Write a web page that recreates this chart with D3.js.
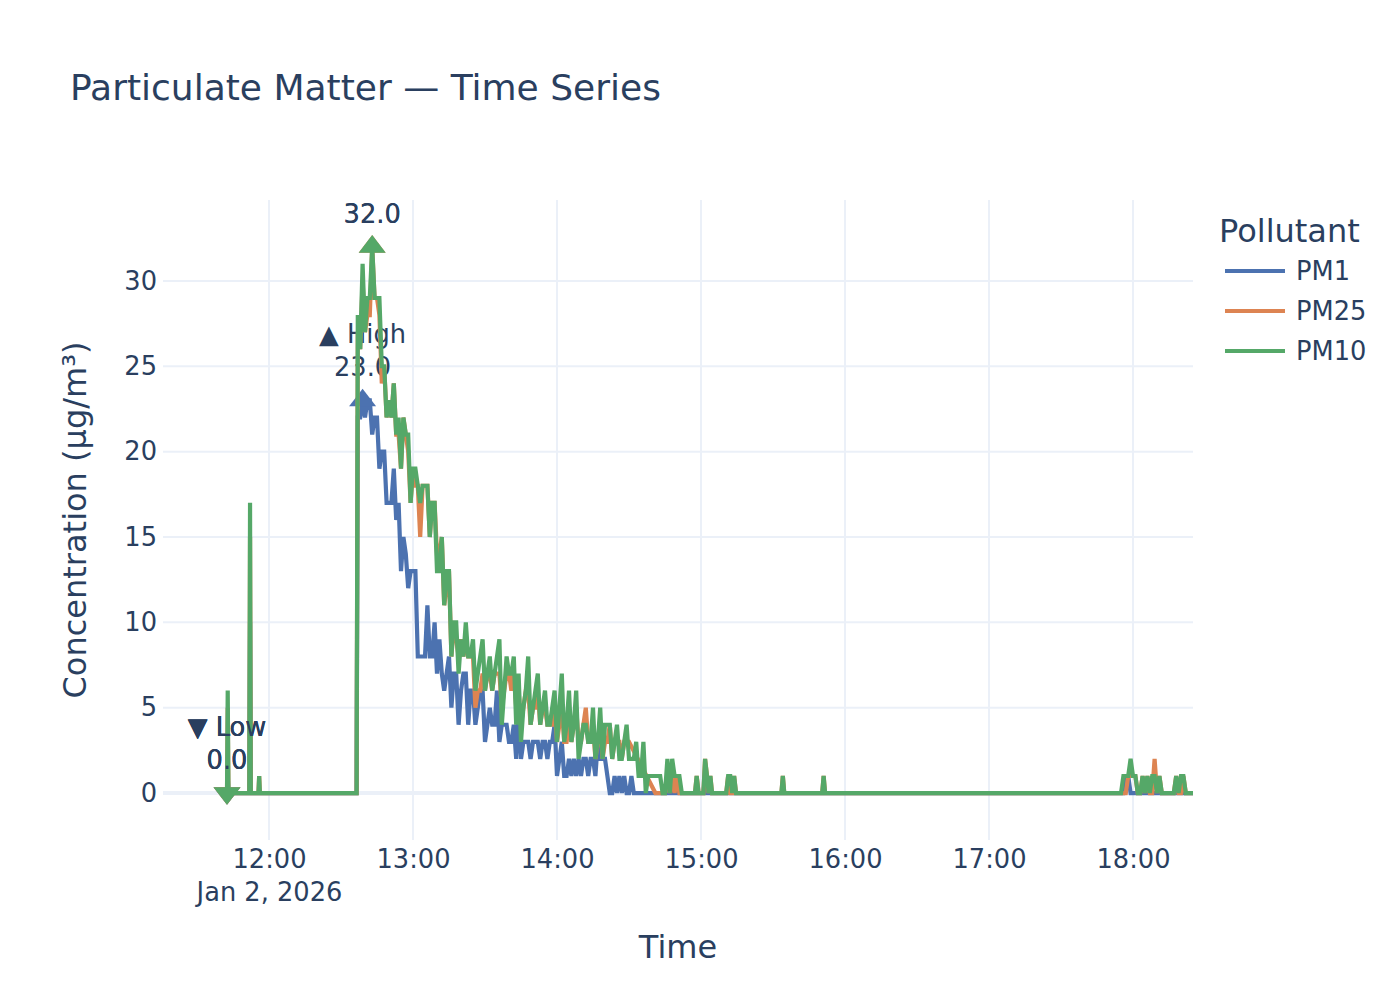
<!DOCTYPE html>
<html>
<head>
<meta charset="utf-8">
<script src="https://cdn.jsdelivr.net/npm/d3@7"></script>
<style>
  body { margin: 0; background: #fff; }
  svg { font-family: "DejaVu Sans", sans-serif; }
  .line { fill: none; stroke-width: 4.2; }
</style>
</head>
<body>
<svg id="chart" width="1400" height="1000"></svg>
<script>
// readings: minutes after 12:00 on Jan 2, 2026
const minutes = [
  -17.5, -17.2, -16.9, -8.2, -7.9, -7.6, -4.4, -4.1, -3.8, 36.5,
  37, 38, 39, 40, 41, 42, 43, 44, 45, 46,
  47, 48, 49, 50, 51, 52, 53, 54, 55, 56,
  57, 58, 59, 60, 61, 62, 63, 64, 65, 66,
  67, 68, 69, 70, 71, 72, 73, 74, 75, 76,
  77, 78, 79, 80, 81, 82, 83, 84, 85, 86,
  87, 88, 89, 90, 91, 92, 93, 94, 95, 96,
  97, 98, 99, 100, 101, 102, 103, 104, 105, 106,
  107, 108, 109, 110, 111, 112, 113, 114, 115, 116,
  117, 118, 119, 120, 121, 122, 123, 124, 125, 126,
  127, 128, 129, 130, 131, 132, 133, 134, 135, 136,
  137, 138, 139, 140, 141, 142, 143, 144, 145, 146,
  147, 148, 149, 150, 151, 152, 153, 154, 155, 156,
  157, 158, 159, 160, 161, 162, 163, 164, 165, 166,
  167, 168, 169, 170, 171, 172,
  177.5, 178.2, 179, 181, 181.7, 182.5, 183.2, 183.9, 184.6,
  190.5, 191.3, 192.2, 193, 193.8, 194.6, 213.5, 214.1, 214.7, 230.5, 231.1, 231.7,
  355, 356, 357, 358, 359, 360, 361, 362, 363, 364,
  365, 366, 367, 368, 369, 370, 371, 372, 373, 374,
  375, 376, 377, 378, 379, 380, 381, 382, 383, 384, 385
]

const pm1 = [
  0, 1, 0, 0, 10, 0, 0, 0, 0, 0,
  22, 22, 23, 22, 23, 23, 21, 22, 22, 19,
  20, 20, 17, 17, 17, 19, 16, 17, 13, 15,
  14, 12, 13, 13, 13, 8, 8, 8, 8, 11,
  8, 8, 10, 7, 9, 7, 6, 7, 8, 5,
  7, 7, 4, 6, 7, 7, 4, 6, 6, 4,
  5, 6, 6, 3, 4, 5, 4, 4, 6, 3,
  4, 4, 4, 3, 3, 4, 2, 5, 2, 3,
  3, 3, 2, 3, 3, 3, 2, 3, 3, 2,
  3, 3, 4, 1, 2, 3, 1, 1, 2, 1,
  2, 1, 2, 1, 2, 2, 1, 2, 2, 1,
  3, 2, 2, 2, 1, 0, 0, 1, 0, 1,
  0, 1, 0, 0, 1, 0, 0, 0, 0, 0,
  0, 0, 0, 0, 0, 0, 0, 0, 0, 0,
  0, 0, 0, 0, 0, 0,
  0, 0, 0, 0, 1, 0, 0, 0, 0,
  0, 0, 0, 0, 0, 0, 0, 0, 0, 0, 0, 0,
  0, 0, 1, 1, 0, 0, 0, 0, 0, 0,
  0, 0, 0, 0, 0, 0, 0, 0, 0, 0,
  0, 0, 0, 0, 0, 0, 0, 0, 0, 0, 0
]

// null = no reading (line runs straight across)
const pm25 = [
  0, 5, 0, 0, 15, 0, 0, 1, 0, 0,
  27, 26, 30, 27, 28, 28, 32, 29, 29, 28,
  24, 25, 22, 23, 22, 24, 21, 21, 19, 22,
  21, 20, 17, 19, 18, 18, 15, 18, 18, 18,
  15, 17, 17, 14, 14, 15, 11, 12, 13, 8,
  10, 9, 8, 9, 8, 9, 8, 8, 8, 5,
  6, 6, 7, 6, 7, 7, 6, 7, 7, 7,
  5, 6, 7, 7, 6, 7, 5, 6, 4, 5,
  6, 6, 4, 5, 5, 6, 4, 5, 5, 4,
  4, 4, 5, 3, 4, 5, 3, 3, 4, 3,
  4, 5, 3, 3, 4, 5, 3, 3, 4, 2,
  3, 4, 2, 3, 3, 4, 2, 3, 3, 3,
  2, 3, 3, 3, null, null, null, null, null, null,
  null, null, null, null, 0, 0, 0, 0, 0, 1,
  0, 1, 0, 1, 0, 0,
  0, 1, 0, 0, 2, 1, 0, 1, 0,
  0, 1, 0, 0, 1, 0, 0, 1, 0, 0, 1, 0,
  0, 0, 0, 1, 1, 1, 1, 0, 0, 1,
  0, 1, 0, 0, 2, 0, 1, 0, 0, 0,
  0, 0, 0, 1, 0, 0, 1, 0, 0, 0, 0
]

const pm10 = [
  0, 6, 0, 0, 17, 0, 0, 1, 0, 0,
  28, 26, 31, 27, 29, 29, 32, 29, 29, 29,
  25, 25, 22, 23, 22, 24, 21, 22, 19, 22,
  21, 21, 17, 19, 19, 18, 17, 18, 18, 18,
  15, 17, 17, 13, 13, 15, 11, 13, 13, 8,
  10, 10, 7, 9, 8, 10, 8, 8, 9, 6,
  7, 8, 9, 6, 7, 8, 6, 7, 8, 9,
  4, 6, 8, 7, 7, 8, 4, 7, 3, 5,
  6, 8, 4, 5, 6, 7, 4, 5, 6, 4,
  4, 5, 6, 3, 5, 7, 3, 4, 6, 3,
  4, 6, 2, 3, 4, 4, 3, 3, 5, 2,
  3, 5, 2, 4, 4, 4, 2, 3, 4, 2,
  2, 3, 4, 2, 2, 2, 3, 1, 1, 3,
  0, 1, 1, 1, 1, 1, 1, 0, 0, 2,
  0, 2, 1, 1, 1, 0,
  0, 1, 0, 0, 2, 1, 0, 1, 0,
  0, 1, 1, 0, 1, 0, 0, 1, 0, 0, 1, 0,
  0, 1, 1, 1, 2, 1, 1, 0, 0, 1,
  0, 1, 0, 1, 1, 0, 1, 0, 0, 0,
  0, 0, 0, 1, 0, 1, 1, 0, 0, 0, 0
]

const seriesNames = ["PM1", "PM25", "PM10"]
const seriesColors = ["#4c72b0", "#dd8452", "#55a868"]
const hourTicks = ["12:00", "13:00", "14:00", "15:00", "16:00", "17:00", "18:00"]
const yTicks = [0, 5, 10, 15, 20, 25, 30]
const yRange = [-2.75, 34.74]

const textColor = "#2a3f5f"
const gridColor = "#ebf0f8"
const plot = {left: 163, right: 1193, top: 200, bottom: 840}

const base = new Date(2026, 0, 2, 12, 0, 0)
const toDate = m => new Date(base.getTime() + m * 60000)
const parseHour = s => toDate((+s.split(":")[0] - 12) * 60 + +s.split(":")[1])

let svg = d3.select("#chart")

svg.append("defs").append("clipPath").attr("id", "plot-clip")
    .append("rect")
    .attr("x", plot.left).attr("y", plot.top)
    .attr("width", plot.right - plot.left)
    .attr("height", plot.bottom - plot.top)

// x starts a bit in from the left edge to leave room for the markers
let xScale = d3.scaleTime()
    .domain([toDate(minutes[0]), toDate(minutes[minutes.length - 1])])
    .range([plot.left + 64, plot.right])

let yScale = d3.scaleLinear()
    .domain(yRange)
    .range([plot.bottom, plot.top])

let xTickDates = hourTicks.map(parseHour)

// grid
let grid = svg.append("g")
grid.selectAll(".vgrid").data(xTickDates).join("line")
    .attr("x1", d => xScale(d)).attr("x2", d => xScale(d))
    .attr("y1", plot.top).attr("y2", plot.bottom)
    .attr("stroke", gridColor).attr("stroke-width", 2)
grid.selectAll(".hgrid").data(yTicks).join("line")
    .attr("x1", plot.left).attr("x2", plot.right)
    .attr("y1", d => yScale(d)).attr("y2", d => yScale(d))
    .attr("stroke", gridColor).attr("stroke-width", d => d === 0 ? 4 : 2)

// axes
let xAxis = svg.append("g")
    .attr("transform", "translate(0," + plot.bottom + ")")
    .call(d3.axisBottom(xScale)
        .tickValues(xTickDates)
        .tickSize(0)
        .tickPadding(10)
        .tickFormat(d3.timeFormat("%H:%M")))
xAxis.select(".domain").remove()
xAxis.attr("font-family", null).attr("font-size", 25.7)
xAxis.selectAll("text").attr("fill", textColor)
xAxis.select(".tick text")
    .append("tspan")
    .attr("x", 0).attr("dy", "1.28em")
    .text(d3.timeFormat("%b %-d, %Y")(xTickDates[0]))

let yAxis = svg.append("g")
    .attr("transform", "translate(" + plot.left + ",0)")
    .call(d3.axisLeft(yScale).tickValues(yTicks).tickSize(0).tickPadding(6))
yAxis.select(".domain").remove()
yAxis.attr("font-family", null).attr("font-size", 25.7)
yAxis.selectAll("text").attr("fill", textColor)

// titles
svg.append("text")
    .attr("x", 70).attr("y", 100)
    .attr("font-size", 36).attr("fill", textColor)
    .text("Particulate Matter — Time Series")

svg.append("text")
    .attr("x", (plot.left + plot.right) / 2).attr("y", 958)
    .attr("text-anchor", "middle")
    .attr("font-size", 32).attr("fill", textColor)
    .text("Time")

svg.append("text")
    .attr("transform", "translate(86," + (plot.top + plot.bottom) / 2 + ") rotate(-90)")
    .attr("text-anchor", "middle")
    .attr("font-size", 32).attr("fill", textColor)
    .text("Concentration (µg/m³)")

// lines, markers and labels
let body = svg.append("g").attr("clip-path", "url(#plot-clip)")

let valueLine = d3.line()
    .x(d => xScale(d.date))
    .y(d => yScale(d.value))

const r = 11.7
const rt = r * 2 / Math.sqrt(3)
const triUp = `M${-rt},${r / 2}H${rt}L0,${-r}Z`
const triDown = `M${-rt},${-r / 2}H${rt}L0,${r}Z`

let allValues = [pm1, pm25, pm10]

allValues.forEach((vals, i) => {
    let data = minutes.map((m, j) => ({date: toDate(m), value: vals[j]}))
        .filter(d => d.value !== null)

    body.append("path")
        .datum(data)
        .attr("class", "line")
        .attr("stroke", seriesColors[i])
        .attr("d", valueLine)

    let hi = data[d3.maxIndex(data, d => d.value)]
    let lo = data[d3.minIndex(data, d => d.value)]

    let marks = [
        {d: hi, shape: triUp, label: "▲ High"},
        {d: lo, shape: triDown, label: "▼ Low"}
    ]

    marks.forEach(mk => {
        let cx = xScale(mk.d.date), cy = yScale(mk.d.value)
        body.append("path")
            .attr("d", mk.shape)
            .attr("transform", `translate(${cx},${cy})`)
            .attr("fill", seriesColors[i])
        let t = body.append("text")
            .attr("text-anchor", "middle")
            .attr("font-size", 25.7)
            .attr("fill", textColor)
        t.append("tspan").attr("x", cx).attr("y", cy - 57).text(mk.label)
        t.append("tspan").attr("x", cx).attr("y", cy - 24).text(mk.d.value.toFixed(1))
    })
})

// legend
let legend = svg.append("g")
legend.append("text")
    .attr("x", 1219).attr("y", 242)
    .attr("font-size", 32).attr("fill", textColor)
    .text("Pollutant")

seriesNames.forEach((name, i) => {
    let ly = 271 + i * 40
    legend.append("line")
        .attr("x1", 1225).attr("x2", 1285)
        .attr("y1", ly).attr("y2", ly)
        .attr("stroke", seriesColors[i]).attr("stroke-width", 4.2)
    legend.append("text")
        .attr("x", 1296).attr("y", ly)
        .attr("dy", "0.36em")
        .attr("font-size", 25.7).attr("fill", textColor)
        .text(name)
})
</script>
</body>
</html>
